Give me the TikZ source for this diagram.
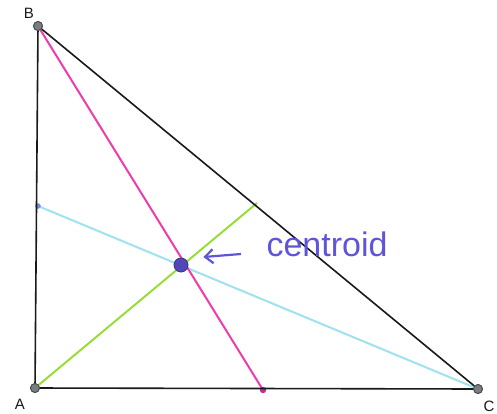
\documentclass[tikz,border=0pt]{standalone}
\usepackage{fontspec}
\setmainfont{Liberation Sans}
\usepackage{tikz}
\usetikzlibrary{arrows.meta,positioning,calc}
\definecolor{side}{RGB}{25,25,25}
\definecolor{medA}{RGB}{150,222,55}
\definecolor{medB}{RGB}{240,60,170}
\definecolor{medC}{RGB}{160,225,240}
\definecolor{cen}{RGB}{95,85,215}
\definecolor{vtx}{RGB}{120,125,130}

\begin{document}
\begin{tikzpicture}[x=0.5pt, y=-0.5pt,
  vert/.style={circle, draw=side!80, fill=vtx, inner sep=0pt, minimum size=4.5pt, line width=0.4pt},
  lbl/.style={font=\fontsize{7.5}{8}\selectfont, text=side},
  edge/.style={draw=side, line width=0.8pt},
  median/.style={line width=1pt},
  cdot/.style={circle, fill=cen!85!black, draw=cen!60!black, inner sep=0pt, minimum size=7pt},
  hand/.style={font=\fontsize{17}{19}\selectfont, text=cen}]
  \useasboundingbox (0,0) rectangle (497,413);
  % vertices
  \node[vert] (B) at (38,26) {};
  \node[vert] (A) at (35,388) {};
  \node[vert] (C) at (478,389) {};
  \node[lbl] (lB) at (29,13) {B};
  \node[lbl] (lA) at (20,404) {A};
  \node[lbl] (lC) at (489,406) {C};
  % midpoints
  \coordinate (mBC) at (257,203);
  \coordinate (mAC) at (263,390);
  \coordinate (mAB) at (38,206);
  % medians
  \draw[median, medC] (C) -- (mAB);
  \draw[median, medA] (A) -- (mBC);
  \draw[median, medB] (B) -- (mAC);
  \fill[medB!80!black] (mAC) circle (1.6pt);
  \fill[cen!60!medC] (mAB) circle (1.4pt);
  % sides
  \draw[edge] (B) -- (A) -- (C) -- (B);
  \node[vert] at (B) {};
  \node[vert] at (A) {};
  \node[vert] at (C) {};
  % centroid
  \node[cdot] (G) at (181,265) {};
  \node[hand] (lG) at (327,244) {centroid};
  \coordinate (arrS) at (241,254);
  \draw[-{Straight Barb[length=4pt, width=7pt]}, cen, line width=1.1pt] (arrS) -- ($(G.east)+(15,-8)$);
\end{tikzpicture}
\end{document}
